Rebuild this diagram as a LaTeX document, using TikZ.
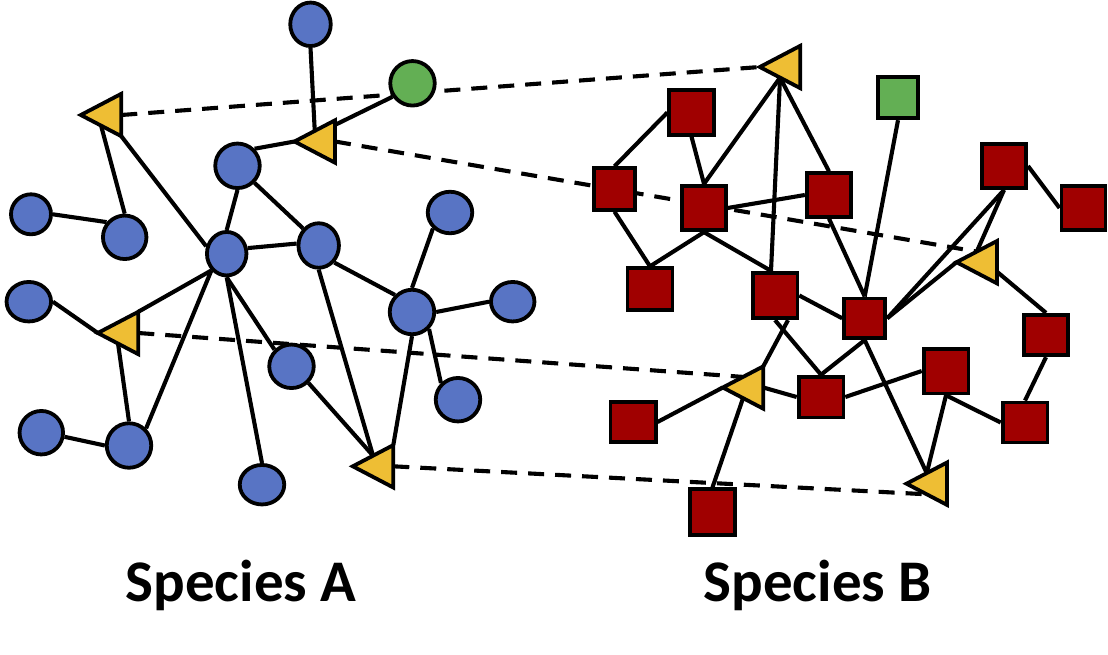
\documentclass[tikz,border=0pt]{standalone}
\usepackage{fontspec}
\newfontfamily\labelfont{Carlito}
\usetikzlibrary{shapes.geometric}
\pgfdeclarelayer{background}
\pgfdeclarelayer{edges}
\pgfsetlayers{background,edges,main}
\definecolor{blueC}{RGB}{88,116,196}
\definecolor{redC}{RGB}{160,0,0}
\definecolor{yelC}{RGB}{238,190,52}
\definecolor{grnC}{RGB}{99,175,84}
\tikzset{
  wh/.style 2 args={minimum width=#1pt, minimum height=#2pt},
  bc/.style={ellipse, draw=black, line width=3.8pt, fill=blueC, inner sep=0pt, wh={44.5}{44.5}},
  gc/.style={bc, fill=grnC},
  sq/.style={rectangle, draw=black, line width=3.8pt, fill=redC, inner sep=0pt, wh={44.5}{44.5}},
  gs/.style={sq, fill=grnC},
  link/.style={line width=4.1pt, line cap=butt},
  dline/.style={line width=4.1pt, dash pattern=on 16pt off 11pt},
  tri/.style={draw=black, line width=3.8pt, fill=yelC, line join=miter},
  lbl/.style={font=\labelfont\bfseries\fontsize{59}{70}\selectfont, inner sep=0pt, anchor=base west}
}
\newcommand{\mktri}[2]{%
  \coordinate (#1) at #2;
  \coordinate (#1-tip) at ([shift={(-40.5,0)}]#1);
  \coordinate (#1-tc) at ([shift={(0,-21.2)}]#1);
  \coordinate (#1-bc) at ([shift={(0,21.2)}]#1);
  \coordinate (#1-tm) at ([shift={(-20.25,-10.6)}]#1);
  \coordinate (#1-bm) at ([shift={(-20.25,10.6)}]#1);
}
\newcommand{\drawtri}[1]{\draw[tri] (#1-tip) -- (#1-tc) -- (#1-bc) -- cycle;}
\begin{document}
\begin{tikzpicture}[x=1pt, y=-1pt]
\begin{pgfonlayer}{background}
\fill[white] (0,0) rectangle (1108,654);
\end{pgfonlayer}
\useasboundingbox (0,0) rectangle (1108,654);

% ---------- Species A: circles ----------
\node[bc, wh={40.5}{43.5}] (c1) at (310.5,24.3) {};
\node[gc] (g) at (412.5,83.3) {};
\node[bc] (c2) at (237.5,165.8) {};
\node[bc, wh={39.5}{43.5}] (c3) at (226.7,253.7) {};
\node[bc, wh={40.5}{44.5}] (c4) at (318.7,245.5) {};
\node[bc, wh={40}{40}] (c5) at (31,214.3) {};
\node[bc, wh={43.5}{43.5}] (c6) at (124.7,237.3) {};
\node[bc, wh={44.5}{41.5}] (c7) at (450,212.5) {};
\node[bc] (c8) at (412,312) {};
\node[bc, wh={43.5}{39.5}] (c9) at (512.7,301.7) {};
\node[bc, wh={44.5}{39.5}] (c10) at (28.8,301.7) {};
\node[bc, wh={44.5}{43.5}] (c11) at (291.5,366.3) {};
\node[bc, wh={44.5}{43.5}] (c12) at (458,399.7) {};
\node[bc, wh={43.5}{43.5}] (c13) at (41.3,432.7) {};
\node[bc] (c14) at (129,445.5) {};
\node[bc, wh={44.5}{39.5}] (c15) at (262,484.7) {};

% ---------- Species B: squares ----------
\node[sq] (s1) at (691.5,112.5) {};
\node[sq, wh={41}{41.5}] (s2) at (614.5,189) {};
\node[sq, wh={43.5}{44.5}] (s3) at (704,208) {};
\node[sq, wh={44.5}{43.5}] (s4) at (829,195) {};
\node[gs, wh={40}{41}] (sg) at (898,97.8) {};
\node[sq, wh={44.2}{44.2}] (s5) at (1004,166) {};
\node[sq, wh={44.1}{43.9}] (s6) at (1083.5,208) {};
\node[sq, wh={45.1}{41.5}] (s7) at (650,289) {};
\node[sq, wh={44.8}{45.5}] (s8) at (775,295.5) {};
\node[sq, wh={41.2}{39.8}] (s9) at (864.7,318.3) {};
\node[sq, wh={44.2}{40.5}] (s10) at (1046,335) {};
\node[sq, wh={44.8}{44.8}] (s11) at (946,371) {};
\node[sq, wh={44.8}{40.8}] (s12) at (821,397) {};
\node[sq, wh={45.2}{40.5}] (s13) at (633,422) {};
\node[sq, wh={44.8}{40.1}] (s14) at (1025,422.5) {};
\node[sq, wh={44.9}{45.5}] (s15) at (712.5,512) {};

% ---------- shared triangles ----------
\mktri{t1}{(121.3,115)}
\mktri{t2}{(335,141.5)}
\mktri{t3}{(138.3,333)}
\mktri{t4}{(393.3,466.3)}
\mktri{t5}{(800.3,67)}
\mktri{t6}{(997,262.2)}
\mktri{t7}{(763.3,387.5)}
\mktri{t8}{(947,483.7)}
\drawtri{t1}\drawtri{t2}\drawtri{t3}\drawtri{t4}
\drawtri{t5}\drawtri{t6}\drawtri{t7}\drawtri{t8}

\begin{pgfonlayer}{edges}
% Species A links
\draw[link] (c1.south) -- (t2-tm);
\draw[link] (g.214) -- ([shift={(-10.2,-11.6)}]t2);
\draw[link] (c2.north east) -- (t2-tip);
\draw[link] (c6.north) -- (t1-bm);
\draw[link] (t1-bc) -- (c3.160);
\draw[link] (c5.east) -- (c6.140);
\draw[link] (c2.south) -- (c3.north);
\draw[link] (c2.south east) -- (c4.north west);
\draw[link] (c3.15) -- (c4.175);
\draw[link] (c3.south west) -- (t3-tc);
\draw[link] (c3.south west) -- (c14.north east);
\draw[link] (c3.south) -- (c15.north);
\draw[link] (c3.south) -- (c11.north west);
\draw[link] (c10.east) -- (t3-tip);
\draw[link] (t3-bm) -- (c14.north);
\draw[link] (c13.-10) -- (c14.west);
\draw[link] (c4.south east) -- (c8.north west);
\draw[link] (c4.south) -- (t4-tm);
\draw[link] (c11.south east) -- (t4-tm);
\draw[link] (c8.south) -- (t4-tc);
\draw[link] (c7.south west) -- (c8.north);
\draw[link] (c8.east) -- (c9.west);
\draw[link] (c8.south east) -- (c12.north west);
% Species B links
\draw[link] (s1.west) -- (s2.north);
\draw[link] (s1.south) -- (s3.north);
\draw[link] (s3.north) -- (t5-bm);
\draw[link] ([xshift=-4pt]s8.north) -- (t5-bm);
\draw[link] (s4.north) -- (t5-bm);
\draw[link] (s3.east) -- (s4.west);
\draw[link] (s2.south) -- (s7.north);
\draw[link] (s3.south) -- (s7.north);
\draw[link] (s3.south) -- ([xshift=-4pt]s8.north);
\draw[link] (s4.south) -- (s9.north);
\draw[link] (sg.south) -- (s9.north);
\draw[link] (s8.east) -- (s9.west);
\draw[link] (s5.east) -- (s6.west);
\draw[link] (s5.south) -- (s9.east);
\draw[link] (s5.south) -- (t6-tm);
\draw[link] (t6-tip) -- (s9.east);
\draw[link] ([shift={(-9.2,1.8)}]t6) -- (s10.north);
\draw[link] (s8.south) -- (s12.north);
\draw[link] ([xshift=13pt]s8.south) -- (t7-tc);
\draw[link] (s9.south) -- (s12.north);
\draw[link] (s9.south) -- (t8-tm);
\draw[link] (s11.south) -- (t8-tm);
\draw[link] (s11.south) -- (s14.west);
\draw[link] (s10.south) -- (s14.north);
\draw[link] (s12.east) -- (s11.west);
\draw[link] (s12.west) -- (t7);
\draw[link] (s13.east) -- (t7-tip);
\draw[link] (t7-bm) -- (s15.north);
% dashed correspondences
\draw[dline] (t1) -- (t5-tip);
\draw[dline] (t2) -- (t6-tm);
\draw[dline] (t3) -- (t7-tm);
\draw[dline] (t4) -- (t8-bm);
\end{pgfonlayer}

% labels
\node[lbl] (la) at (125.5,601) {Species A};
\node[lbl] (lb) at (703.5,601) {Species B};
\end{tikzpicture}
\end{document}
